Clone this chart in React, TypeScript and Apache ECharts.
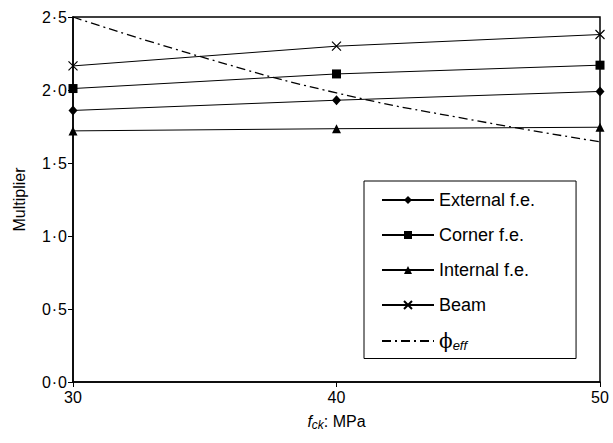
import React, { useEffect, useRef } from "react";
import * as echarts from "echarts";

const xTicks = [30, 40, 50];
const externalFE = [1.86, 1.93, 1.99];
const cornerFE = [2.01, 2.11, 2.17];
const internalFE = [1.72, 1.735, 1.745];
const beam = [2.165, 2.3, 2.38];
const phiX = [30, 35, 40, 45, 50];
const phiEff = [2.5, 2.22, 1.98, 1.8, 1.645];

const FONT = "Liberation Sans, Arial, sans-serif";
const crossPath = "path://M0,0L10,10M10,0L0,10";

export default function App() {
  const ref = useRef<HTMLDivElement>(null);
  useEffect(() => {
    const chart = echarts.init(ref.current!, undefined, { renderer: "svg" });
    const pts = (ys: number[]) => xTicks.map((x, i) => [x, ys[i]]);
    const base = {
      type: "line",
      lineStyle: { color: "#000", width: 1 },
      itemStyle: { color: "#000" },
      showSymbol: true,
    };
    chart.setOption({
      animation: false,
      textStyle: { fontFamily: FONT },
      grid: {
        left: 73,
        right: 13,
        top: 17,
        bottom: 61,
        show: true,
        borderColor: "#000",
        borderWidth: 1.5,
        backgroundColor: "transparent",
      },
      xAxis: {
        type: "value",
        min: 30,
        max: 50,
        interval: 10,
        axisLine: { show: true, lineStyle: { color: "#000", width: 1.5 } },
        axisTick: { show: true, length: 5, lineStyle: { color: "#000" } },
        splitLine: { show: false },
        axisLabel: { color: "#000", fontSize: 16, fontFamily: FONT, margin: 7 },
        name: "{i|f}{s|ck}{n|: MPa}",
        nameLocation: "middle",
        nameGap: 30,
        nameTextStyle: {
          rich: {
            i: { fontStyle: "italic", fontSize: 16, color: "#000", fontFamily: FONT },
            s: { fontStyle: "italic", fontSize: 12, color: "#000", fontFamily: FONT, padding: [7, 0, 0, 0] },
            n: { fontSize: 16, color: "#000", fontFamily: FONT },
          },
        },
      },
      yAxis: {
        type: "value",
        min: 0,
        max: 2.5,
        interval: 0.5,
        axisLine: { show: true, lineStyle: { color: "#000", width: 1.5 } },
        axisTick: { show: true, length: 5, lineStyle: { color: "#000" } },
        splitLine: { show: false },
        axisLabel: {
          color: "#000",
          fontSize: 16,
          fontFamily: FONT,
          margin: 6,
          formatter: (v: number) => {
            const [a, b] = v.toFixed(1).split(".");
            return `${a}{d|·}${b}`;
          },
          rich: {
            d: { fontSize: 16, color: "#000", fontFamily: FONT, padding: [0, 1, 0, 1] },
          },
        },
        name: "Multiplier",
        nameLocation: "middle",
        nameGap: 46,
        nameTextStyle: { color: "#000", fontSize: 16, fontFamily: FONT },
      },
      legend: {
        orient: "vertical",
        left: 364,
        top: 181,
        itemWidth: 52,
        itemHeight: 10,
        itemGap: 17,
        padding: [10, 41, 7, 17],
        borderColor: "#000",
        borderWidth: 1,
        backgroundColor: "#fff",
        textStyle: {
          color: "#000",
          fontSize: 18,
          fontFamily: FONT,
          rich: {
            p: { fontSize: 20, color: "#000", fontFamily: "DejaVu Serif, serif" },
            e: { fontSize: 13, fontStyle: "italic", color: "#000", fontFamily: FONT, padding: [8, 0, 0, 0] },
          },
        },
        formatter: (name: string) => (name === "phi" ? "{p|ϕ}{e|eff}" : name),
        data: [
          "External f.e.",
          "Corner f.e.",
          "Internal f.e.",
          "Beam",
          { name: "phi", itemStyle: { color: "transparent", borderWidth: 0, opacity: 0 } },
        ],
      },
      series: [
        { ...base, name: "External f.e.", data: pts(externalFE), symbol: "diamond", symbolSize: [9, 10] },
        { ...base, name: "Corner f.e.", data: pts(cornerFE), symbol: "rect", symbolSize: 9 },
        { ...base, name: "Internal f.e.", data: pts(internalFE), symbol: "triangle", symbolSize: 9 },
        {
          ...base,
          name: "Beam",
          data: pts(beam),
          symbol: crossPath,
          symbolSize: 9,
          itemStyle: { color: "transparent", borderColor: "#000", borderWidth: 1.2 },
        },
        {
          type: "line",
          name: "phi",
          data: phiX.map((x, i) => [x, phiEff[i]]),
          smooth: true,
          showSymbol: false,
          symbol: "none",
          lineStyle: { color: "#000", width: 1.3, type: [9, 4, 2, 4] },
          itemStyle: { color: "#000" },
          z: 1,
        },
      ],
    });
    return () => chart.dispose();
  }, []);
  return (
    <div
      ref={ref}
      style={{ position: "fixed", left: 0, top: 0, width: 613, height: 443, background: "#fff" }}
    />
  );
}
